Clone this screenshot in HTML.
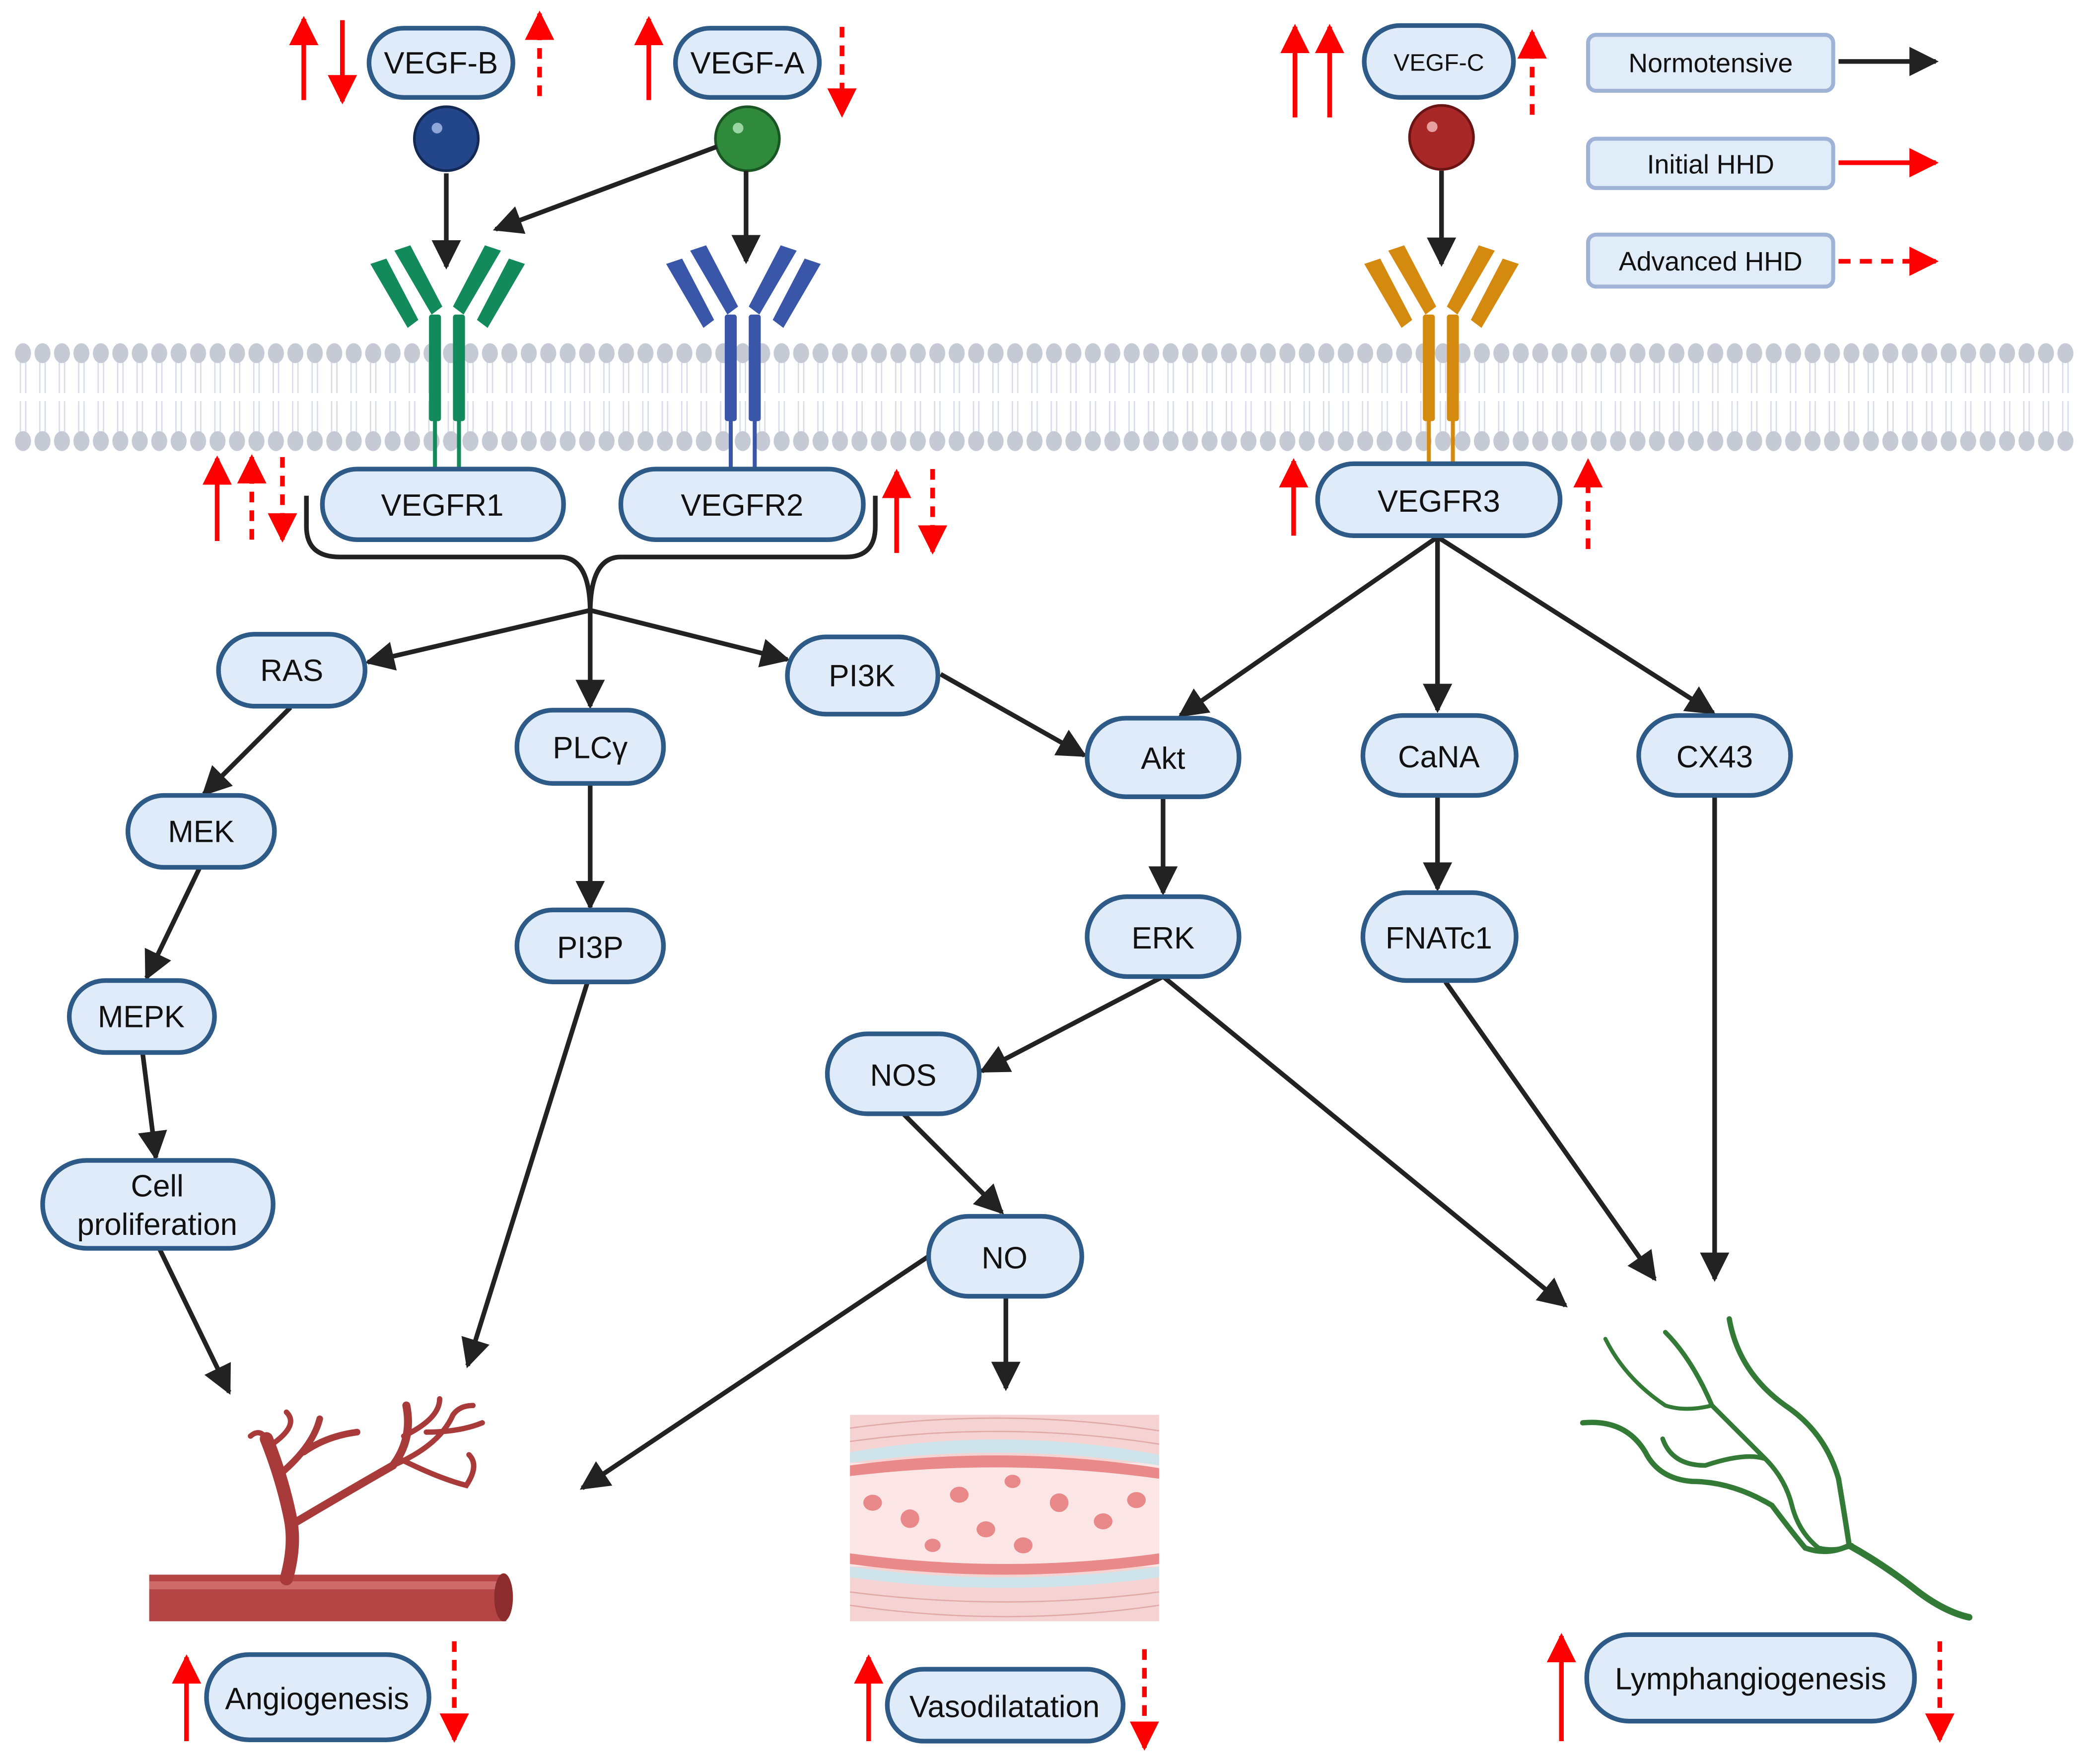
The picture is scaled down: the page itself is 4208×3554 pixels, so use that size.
<!DOCTYPE html>
<html><head><meta charset="utf-8"><style>
html,body{margin:0;padding:0;background:#fff;}
svg{display:block;}
text{font-family:"Liberation Sans",sans-serif;fill:#111;}
</style></head><body>
<svg width="4208" height="3554" viewBox="0 0 1568 1324" xmlns="http://www.w3.org/2000/svg">
<defs>
<marker id="k" viewBox="0 0 10 10" refX="9" refY="5" markerWidth="22" markerHeight="22" orient="auto" markerUnits="userSpaceOnUse"><path d="M0,0 L10,5 L0,10 z" fill="#222"/></marker>
<marker id="r" viewBox="0 0 10 10" refX="9" refY="5" markerWidth="22" markerHeight="22" orient="auto" markerUnits="userSpaceOnUse"><path d="M0,0 L10,5 L0,10 z" fill="#f00"/></marker>
<pattern id="heads" width="14.6" height="90" patternUnits="userSpaceOnUse" x="10" y="255">
<line x1="5.3" y1="10" x2="5.3" y2="40" stroke="#d7dcea" stroke-width="1"/>
<line x1="9.3" y1="10" x2="9.3" y2="40" stroke="#d7dcea" stroke-width="1"/>
<line x1="5.3" y1="46" x2="5.3" y2="76" stroke="#d7dcea" stroke-width="1"/>
<line x1="9.3" y1="46" x2="9.3" y2="76" stroke="#d7dcea" stroke-width="1"/>
<ellipse cx="7.3" cy="10" rx="6" ry="7.5" fill="#c5cad4"/>
<ellipse cx="7.3" cy="76" rx="6" ry="7.5" fill="#c5cad4"/>
</pattern>
</defs>

<rect x="10" y="255" width="1548" height="90" fill="url(#heads)"/>

<g fill="#138a5c">
 <rect x="322" y="236" width="9" height="80" rx="2"/><rect x="340" y="236" width="9" height="80" rx="2"/>
 <rect x="325" y="310" width="3" height="44"/><rect x="343" y="310" width="3" height="44"/>
 <g transform="translate(336,236)">
  <polygon points="-12,0 -40,-48 -28,-52 -4,-6"/><polygon points="-30,10 -58,-38 -46,-42 -22,4"/>
  <polygon points="12,0 40,-48 28,-52 4,-6"/><polygon points="30,10 58,-38 46,-42 22,4"/>
 </g>
</g>
<g fill="#3a56a8">
 <rect x="544" y="236" width="9" height="80" rx="2"/><rect x="562" y="236" width="9" height="80" rx="2"/>
 <rect x="547" y="310" width="3" height="44"/><rect x="565" y="310" width="3" height="44"/>
 <g transform="translate(558,236)">
  <polygon points="-12,0 -40,-48 -28,-52 -4,-6"/><polygon points="-30,10 -58,-38 -46,-42 -22,4"/>
  <polygon points="12,0 40,-48 28,-52 4,-6"/><polygon points="30,10 58,-38 46,-42 22,4"/>
 </g>
</g>
<g fill="#d4890f">
 <rect x="1068" y="236" width="9" height="80" rx="2"/><rect x="1086" y="236" width="9" height="80" rx="2"/>
 <rect x="1071" y="310" width="3" height="40"/><rect x="1089" y="310" width="3" height="40"/>
 <g transform="translate(1082,236)">
  <polygon points="-12,0 -40,-48 -28,-52 -4,-6"/><polygon points="-30,10 -58,-38 -46,-42 -22,4"/>
  <polygon points="12,0 40,-48 28,-52 4,-6"/><polygon points="30,10 58,-38 46,-42 22,4"/>
 </g>
</g>

<circle cx="335" cy="104" r="24" fill="#23468a" stroke="#132a55" stroke-width="2"/><circle cx="328" cy="96" r="4" fill="#8ea6d8"/>
<circle cx="561" cy="104" r="24" fill="#2f8a3c" stroke="#1a5524" stroke-width="2"/><circle cx="554" cy="96" r="4" fill="#9ad6a2"/>
<circle cx="1082" cy="103" r="24" fill="#a82828" stroke="#6a1414" stroke-width="2"/><circle cx="1075" cy="95" r="4" fill="#e7a0a0"/>

<g stroke="#222" stroke-width="3.5" fill="none" marker-end="url(#k)">
 <line x1="335" y1="130" x2="335" y2="200"/>
 <line x1="538" y1="110" x2="372" y2="172"/>
 <line x1="560" y1="128" x2="560" y2="196"/>
 <line x1="1082" y1="128" x2="1082" y2="198"/>
 <line x1="443" y1="458" x2="276" y2="497"/>
 <line x1="443" y1="458" x2="443" y2="530"/>
 <line x1="443" y1="458" x2="591" y2="495"/>
 <line x1="1079" y1="403" x2="886" y2="537"/>
 <line x1="1079" y1="403" x2="1079" y2="533"/>
 <line x1="1079" y1="403" x2="1286" y2="535"/>
 <line x1="706" y1="506" x2="814" y2="567"/>
 <line x1="218" y1="531" x2="153" y2="596"/>
 <line x1="150" y1="651" x2="110" y2="734"/>
 <line x1="107" y1="790" x2="117" y2="869"/>
 <line x1="120" y1="938" x2="172" y2="1045"/>
 <line x1="443" y1="588" x2="443" y2="681"/>
 <line x1="441" y1="737" x2="351" y2="1025"/>
 <line x1="873" y1="598" x2="873" y2="670"/>
 <line x1="873" y1="733" x2="737" y2="804"/>
 <line x1="873" y1="733" x2="1175" y2="980"/>
 <line x1="678" y1="836" x2="752" y2="910"/>
 <line x1="697" y1="943" x2="437" y2="1117"/>
 <line x1="755" y1="973" x2="755" y2="1042"/>
 <line x1="1079" y1="597" x2="1079" y2="667"/>
 <line x1="1085" y1="737" x2="1242" y2="960"/>
 <line x1="1287" y1="597" x2="1287" y2="960"/>
 <line x1="1380" y1="46" x2="1453" y2="46"/>
</g>
<path d="M230,372 V395 Q230,418 255,418 H420 Q443,418 443,460 Q443,418 466,418 H635 Q657,418 657,395 V372" stroke="#222" stroke-width="3.5" fill="none"/>

<line x1="1380" y1="122" x2="1453" y2="122" stroke="#f00" stroke-width="3.5" marker-end="url(#r)"/>
<line x1="1380" y1="196" x2="1453" y2="196" stroke="#f00" stroke-width="3.5" stroke-dasharray="9,7" marker-end="url(#r)"/>

<g stroke="#f00" stroke-width="3.5" fill="none">
 <g marker-end="url(#r)">
  <line x1="228" y1="75" x2="228" y2="14"/>
  <line x1="257" y1="15" x2="257" y2="76"/>
  <line x1="487" y1="75" x2="487" y2="14"/>
  <line x1="972" y1="88" x2="972" y2="20"/>
  <line x1="998" y1="88" x2="998" y2="20"/>
  <line x1="163" y1="406" x2="163" y2="344"/>
  <line x1="673" y1="415" x2="673" y2="354"/>
  <line x1="971" y1="402" x2="971" y2="346"/>
  <line x1="140" y1="1307" x2="140" y2="1244"/>
  <line x1="652" y1="1307" x2="652" y2="1244"/>
  <line x1="1172" y1="1307" x2="1172" y2="1228"/>
 </g>
 <g marker-end="url(#r)" stroke-dasharray="8,6">
  <line x1="405" y1="72" x2="405" y2="10"/>
  <line x1="632" y1="20" x2="632" y2="86"/>
  <line x1="1150" y1="86" x2="1150" y2="24"/>
  <line x1="189" y1="405" x2="189" y2="343"/>
  <line x1="212" y1="343" x2="212" y2="405"/>
  <line x1="700" y1="352" x2="700" y2="414"/>
  <line x1="1192" y1="412" x2="1192" y2="346"/>
  <line x1="341" y1="1232" x2="341" y2="1306"/>
  <line x1="859" y1="1238" x2="859" y2="1312"/>
  <line x1="1456" y1="1232" x2="1456" y2="1306"/>
 </g>
</g>

<g fill="#e0ecf8" stroke="#9fb3d6" stroke-width="3">
 <rect x="1192" y="26" width="184" height="42" rx="6"/>
 <rect x="1192" y="104" width="184" height="37" rx="6"/>
 <rect x="1192" y="176" width="184" height="39" rx="6"/>
</g>
<g font-size="20" text-anchor="middle">
 <text x="1284" y="54">Normotensive</text>
 <text x="1284" y="130">Initial HHD</text>
 <text x="1284" y="203">Advanced HHD</text>
</g>

<g fill="#dfebf8" stroke="#2e5a88" stroke-width="3.5">
 <rect x="277" y="21" width="108" height="52" rx="26"/>
 <rect x="507" y="21" width="108" height="52" rx="26"/>
 <rect x="1024" y="19" width="112" height="54" rx="27"/>
 <rect x="242" y="352" width="181" height="53" rx="26"/>
 <rect x="466" y="352" width="182" height="53" rx="26"/>
 <rect x="989" y="348" width="182" height="54" rx="27"/>
 <rect x="164" y="476" width="110" height="54" rx="27"/>
 <rect x="388" y="533" width="110" height="55" rx="27"/>
 <rect x="591" y="478" width="113" height="58" rx="29"/>
 <rect x="816" y="539" width="114" height="59" rx="29"/>
 <rect x="1023" y="537" width="115" height="60" rx="30"/>
 <rect x="1230" y="537" width="114" height="60" rx="30"/>
 <rect x="96" y="597" width="110" height="54" rx="27"/>
 <rect x="388" y="683" width="110" height="54" rx="27"/>
 <rect x="816" y="673" width="114" height="60" rx="30"/>
 <rect x="1023" y="670" width="115" height="66" rx="33"/>
 <rect x="52" y="736" width="109" height="54" rx="27"/>
 <rect x="621" y="776" width="114" height="60" rx="30"/>
 <rect x="32" y="871" width="173" height="66" rx="33"/>
 <rect x="697" y="913" width="115" height="60" rx="30"/>
 <rect x="155" y="1242" width="167" height="64" rx="32"/>
 <rect x="666" y="1253" width="177" height="54" rx="27"/>
 <rect x="1191" y="1227" width="246" height="65" rx="32"/>
</g>
<g font-size="23" text-anchor="middle">
 <text x="331" y="55">VEGF-B</text>
 <text x="561" y="55">VEGF-A</text>
 <text x="1080" y="53" font-size="18">VEGF-C</text>
 <text x="332" y="387">VEGFR1</text>
 <text x="557" y="387">VEGFR2</text>
 <text x="1080" y="384">VEGFR3</text>
 <text x="219" y="511">RAS</text>
 <text x="443" y="569">PLCγ</text>
 <text x="647" y="515">PI3K</text>
 <text x="873" y="577">Akt</text>
 <text x="1080" y="576">CaNA</text>
 <text x="1287" y="576">CX43</text>
 <text x="151" y="632">MEK</text>
 <text x="443" y="719">PI3P</text>
 <text x="873" y="712">ERK</text>
 <text x="1080" y="712">FNATc1</text>
 <text x="106" y="771">MEPK</text>
 <text x="678" y="815">NOS</text>
 <text x="118" y="898">Cell</text>
 <text x="118" y="927">proliferation</text>
 <text x="754" y="952">NO</text>
 <text x="238" y="1283">Angiogenesis</text>
 <text x="754" y="1289">Vasodilatation</text>
 <text x="1314" y="1268">Lymphangiogenesis</text>
</g>

<g>
 <rect x="112" y="1182" width="268" height="35" fill="#b54545"/>
 <rect x="112" y="1187" width="268" height="6" fill="#cf6a6a"/>
 <ellipse cx="378" cy="1199" rx="7" ry="18" fill="#8c2c2c"/>
 <g stroke="#a83a3a" stroke-linecap="round" fill="none">
  <path d="M215,1185 Q222,1160 218,1140 Q212,1110 200,1080" stroke-width="10"/>
  <path d="M218,1145 Q260,1120 295,1100 Q310,1080 305,1055" stroke-width="6"/>
  <path d="M212,1105 Q235,1085 240,1065 M228,1090 Q245,1078 268,1075" stroke-width="5"/>
  <path d="M200,1080 Q195,1072 188,1078 M203,1085 Q225,1070 215,1060" stroke-width="4"/>
  <path d="M295,1100 Q330,1085 340,1062 Q345,1055 355,1055 M303,1078 Q330,1065 330,1050 M320,1075 Q345,1075 362,1068" stroke-width="4"/>
  <path d="M300,1095 Q330,1110 350,1115 Q360,1100 352,1092" stroke-width="4"/>
 </g>
</g>

<g>
 <rect x="638" y="1062" width="232" height="155" fill="#f6d3d3"/>
 <rect x="638" y="1098" width="232" height="78" fill="#fbe5e5"/>
 <path d="M638,1090 Q755,1070 870,1092 L870,1100 Q755,1082 638,1098 z" fill="#cfe4ea"/>
 <path d="M638,1176 Q755,1192 870,1176 L870,1184 Q755,1200 638,1184 z" fill="#cfe4ea"/>
 <path d="M638,1100 Q755,1084 870,1102 L870,1110 Q755,1094 638,1108 z" fill="#e9898a"/>
 <path d="M638,1166 Q755,1182 870,1166 L870,1174 Q755,1190 638,1174 z" fill="#e9898a"/>
 <g fill="#e98888">
  <ellipse cx="655" cy="1128" rx="7" ry="6"/><ellipse cx="683" cy="1140" rx="7" ry="7"/>
  <ellipse cx="720" cy="1122" rx="7" ry="6"/><ellipse cx="740" cy="1148" rx="7" ry="6"/>
  <ellipse cx="768" cy="1160" rx="7" ry="6"/><ellipse cx="795" cy="1128" rx="7" ry="7"/>
  <ellipse cx="828" cy="1142" rx="7" ry="6"/><ellipse cx="853" cy="1126" rx="7" ry="6"/>
  <ellipse cx="700" cy="1160" rx="6" ry="5"/><ellipse cx="760" cy="1112" rx="6" ry="5"/>
 </g>
 <g stroke="#e2a9a9" stroke-width="1" fill="none">
  <path d="M638,1072 Q755,1056 870,1074"/><path d="M638,1082 Q755,1066 870,1084"/>
  <path d="M638,1195 Q755,1210 870,1195"/><path d="M638,1205 Q755,1222 870,1205"/>
 </g>
</g>

<g stroke="#327a36" fill="none" stroke-linecap="round">
 <path d="M1298,990 Q1305,1030 1340,1055 Q1370,1075 1380,1110 Q1385,1140 1388,1160" stroke-width="4"/>
 <path d="M1388,1160 Q1415,1175 1440,1195 Q1460,1210 1478,1214" stroke-width="5"/>
 <path d="M1250,1000 Q1270,1020 1285,1055 Q1300,1070 1325,1095 Q1340,1110 1345,1130 Q1350,1150 1365,1162 Q1378,1165 1390,1160" stroke-width="3.5"/>
 <path d="M1205,1005 Q1220,1035 1250,1055 Q1265,1060 1285,1055" stroke-width="3"/>
 <path d="M1248,1080 Q1255,1100 1280,1100 Q1310,1090 1325,1095" stroke-width="3.5"/>
 <path d="M1188,1068 Q1220,1065 1235,1090 Q1245,1110 1270,1112 Q1300,1112 1330,1130 Q1345,1150 1355,1162 Q1372,1168 1388,1160" stroke-width="4"/>
</g>
</svg>
</body></html>
